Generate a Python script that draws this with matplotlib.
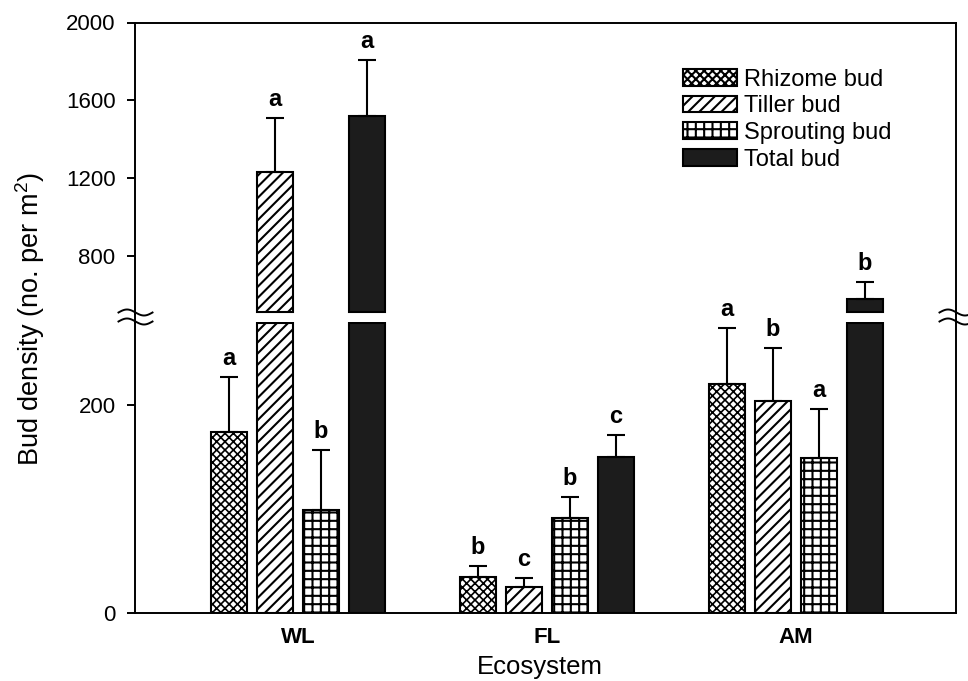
import matplotlib
matplotlib.use("Agg")
import matplotlib.pyplot as plt
import numpy as np
from matplotlib.lines import Line2D

plt.rcParams['font.family'] = ['Liberation Sans', 'DejaVu Sans']
plt.rcParams['mathtext.fontset'] = 'custom'
plt.rcParams['mathtext.rm'] = 'Liberation Sans'
plt.rcParams['mathtext.it'] = 'Liberation Sans:italic'
plt.rcParams['hatch.linewidth'] = 1.5
plt.rcParams['hatch.color'] = 'black'

# ---------------- data ----------------
categories = ['WL', 'FL', 'AM']
series_names = ['Rhizome bud', 'Tiller bud', 'Sprouting bud', 'Total bud']
rhizome = [174, 35, 220]
tiller = [1231, 25, 204]
sprouting = [99, 91, 149]
total = [1520, 150, 579]
rhizome_err = [53, 10, 54]
tiller_err = [278, 9, 51]
sprouting_err = [58, 20, 47]
total_err = [287, 21, 88]
rhizome_sig = ['a', 'b', 'a']
tiller_sig = ['a', 'c', 'b']
sprouting_sig = ['b', 'b', 'a']
total_sig = ['a', 'c', 'b']
lower_ticks = [0, 200]
upper_ticks = [800, 1200, 1600, 2000]
lower_lim = (0, 280)
upper_lim = (507, 2000)

values = [rhizome, tiller, sprouting, total]
errors = [rhizome_err, tiller_err, sprouting_err, total_err]
sigs = [rhizome_sig, tiller_sig, sprouting_sig, total_sig]
hatches = ['xxxx', '///', '++', None]
hatch_lws = [1.2, 1.5, 1.5, 1.0]
faces = ['white', 'white', 'white', '#1c1c1c']

W, H = 968, 681
fig = plt.figure(figsize=(W / 100, H / 100), dpi=100)
L, R = 135 / W, 956 / W
up_top, up_bot = 22.5, 313.5
lo_top, lo_bot = 321.5, 613
ax_up = fig.add_axes([L, 1 - up_bot / H, R - L, (up_bot - up_top) / H])
ax_lo = fig.add_axes([L, 1 - lo_bot / H, R - L, (lo_bot - lo_top) / H])

x = np.arange(len(categories))
step = 0.185
width = 0.145
lo_cut = lower_lim[1] - 0.004 * (lower_lim[1] - lower_lim[0])
up_cut = upper_lim[0] + 0.004 * (upper_lim[1] - upper_lim[0])
for i, (vals, errs, sg, hatch, hlw, fc, name) in enumerate(
        zip(values, errors, sigs, hatches, hatch_lws, faces, series_names)):
    xi = x + (i - 1.5) * step
    vals = np.array(vals, dtype=float)
    with plt.rc_context({'hatch.linewidth': hlw}):
        # lower panel: bars cut just under the break
        ax_lo.bar(xi, np.minimum(vals, lo_cut), width, color=fc, edgecolor='black',
                  linewidth=1.5, hatch=hatch, zorder=2)
        # upper panel: only the parts above the break
        hi = vals > upper_lim[0]
        ax_up.bar(xi[hi], vals[hi] - up_cut, width, bottom=up_cut, color=fc,
                  edgecolor='black', linewidth=1.5, hatch=hatch, zorder=2)
        ax_up.bar([np.nan], [np.nan], width, color=fc, edgecolor='black',
                  linewidth=1.5, hatch=hatch, label=name)
    for xx, v, e, s in zip(xi, vals, errs, sg):
        ax = ax_up if v > lower_lim[1] else ax_lo
        ax.errorbar([xx], [v], yerr=[[0], [e]], fmt='none', ecolor='black',
                    elinewidth=1.5, capsize=6.8, capthick=1.5, zorder=3)
        ax.annotate(s, (xx, v + e), xytext=(0, 5), textcoords='offset points',
                    ha='center', va='bottom', fontsize=17, fontweight='bold')

for ax in (ax_up, ax_lo):
    ax.set_xlim(-0.655, 2.643)
    for sp in ax.spines.values():
        sp.set_linewidth(1.4)
    ax.tick_params(axis='y', direction='out', length=6, width=1.4, labelsize=16, pad=8)

ax_up.set_ylim(*upper_lim)
ax_up.set_yticks(upper_ticks)
ax_up.spines['bottom'].set_visible(False)
ax_up.tick_params(axis='x', bottom=False, labelbottom=False)

ax_lo.set_ylim(*lower_lim)
ax_lo.set_yticks(lower_ticks)
ax_lo.spines['top'].set_visible(False)
ax_lo.set_xticks(x)
ax_lo.set_xticklabels(categories, fontsize=16, fontweight='bold')
ax_lo.tick_params(axis='x', length=0, pad=10)

# connect spines through the gap
for xs in (L, R):
    fig.add_artist(Line2D([xs, xs], [1 - up_bot / H, 1 - lo_top / H],
                          transform=fig.transFigure, color='black', lw=1.4))

# break marks
t = np.linspace(0, 1, 60)
for xc in (135.5, 956.5):
    for yc in (up_bot - 1, lo_top):
        xs = xc - 17 + 34 * t
        ys = yc - 3 * np.sin(2 * np.pi * t)
        fig.add_artist(Line2D(xs / W, 1 - ys / H, transform=fig.transFigure,
                              color='black', lw=1.4))

leg = ax_up.legend(loc='upper left',
                   bbox_to_anchor=((683 - 135) / (956 - 135), 1 - (68.5 - 22.5) / (313.5 - 22.5)),
                   frameon=False, fontsize=17, handlelength=2.3, handleheight=0.7,
                   handletextpad=0.3, labelspacing=0.2, borderpad=0, borderaxespad=0)

fig.text(30 / W, 1 - 319 / H, 'Bud density (no. per m$^2$)', rotation=90,
         ha='center', va='center', fontsize=19.5)
fig.text(540 / W, 1 - 667 / H, 'Ecosystem', ha='center', va='center', fontsize=18.5)

fig.savefig('out.png', dpi=100)
